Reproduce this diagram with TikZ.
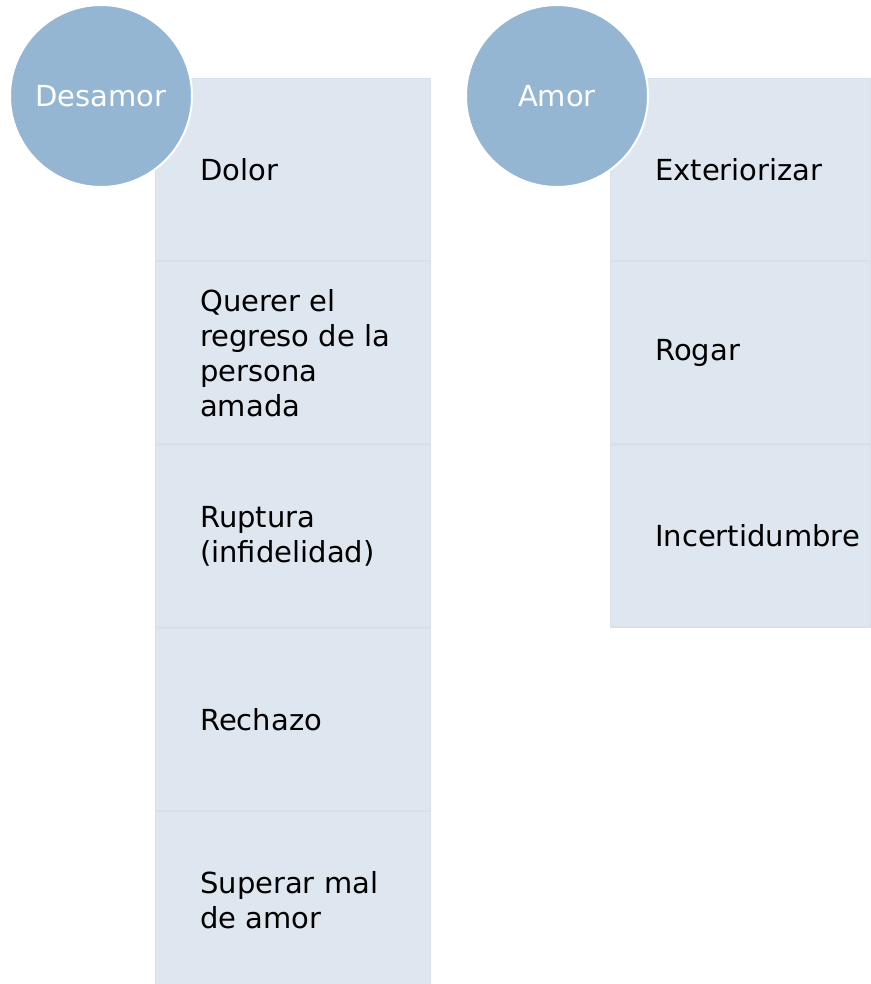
\documentclass[tikz,border=0pt]{standalone}
\usepackage{fontspec}
\setmainfont{DejaVu Sans}
\usepackage{xcolor}
\usepackage{tikz}
\usetikzlibrary{positioning}

\definecolor{cellfill}{HTML}{DEE6EF}
\definecolor{cellline}{HTML}{D8E0EA}
\definecolor{circfill}{HTML}{94B6D2}

\begin{document}
\begin{tikzpicture}[x=1pt, y=1pt,
  cellL/.style={rectangle, draw=cellline, line width=1.2pt, fill=cellfill, minimum width=275pt, minimum height=182pt, inner sep=0pt, anchor=north west},
  cellR/.style={cellL, minimum width=260pt},
  item/.style={align=left, inner sep=0pt, font=\fontsize{29}{35}\selectfont},
  topic/.style={circle, draw=white, line width=2pt, fill=circfill, minimum size=182pt, inner sep=0pt, text=white, font=\fontsize{29}{35}\selectfont}]
\useasboundingbox (0,0) rectangle (870,-984);

% Desamor column
\node[cellL] (d1) at (155,-78) {};
\node[cellL, below=0pt of d1] (d2) {};
\node[cellL, below=0pt of d2] (d3) {};
\node[cellL, below=0pt of d3] (d4) {};
\node[cellL, below=0pt of d4] (d5) {};

% Amor column
\node[cellR] (a1) at (610,-78) {};
\node[cellR, below=0pt of a1] (a2) {};
\node[cellR, below=0pt of a2] (a3) {};

% Texts
\node[item, right=45pt of d1.west] (td1) {Dolor};
\node[item, right=45pt of d2.west] (td2) {Querer el\\regreso de la\\persona\\amada};
\node[item, right=45pt of d3.west] (td3) {Ruptura\\(infidelidad)};
\node[item, right=45pt of d4.west] (td4) {Rechazo};
\node[item, right=45pt of d5.west, yshift=2pt] (td5) {Superar mal\\de amor};
\node[item, right=45pt of a1.west] (ta1) {Exteriorizar};
\node[item, right=45pt of a2.west] (ta2) {Rogar};
\node[item, right=45pt of a3.west] (ta3) {Incertidumbre};

% Circles
\node[topic] (des) at (101,-96) {Desamor};
\node[topic] (am) at (557,-96) {Amor};
\end{tikzpicture}
\end{document}
